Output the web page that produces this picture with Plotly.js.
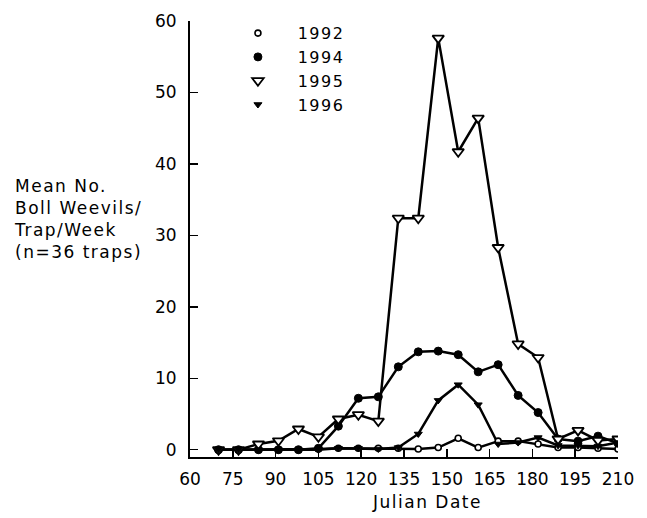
<!DOCTYPE html>
<html>
<head>
<meta charset="utf-8">
<script src="https://cdn.plot.ly/plotly-3.0.1.min.js"></script>
<style>
  html, body { margin: 0; padding: 0; background: #fff; }
  #chart { width: 647px; height: 518px; }
  .annotation-text, .legendtext { letter-spacing: 1.5px; }
</style>
</head>
<body>
<div id="chart"></div>
<script>
// Julian dates of the weekly trap counts
const julianDates = [70, 77, 84, 91, 98, 105, 112, 119, 126, 133, 140, 147, 154, 161, 168, 175, 182, 189, 196, 203, 210];

// Mean no. boll weevils / trap / week
const y1992 = [0, 0, 0, 0, 0, 0.1, 0.2, 0.2, 0.2, 0.2, 0.1, 0.3, 1.6, 0.3, 1.2, 1.2, 0.8, 0.3, 0.3, 0.2, 0.1];
const y1994 = [0, 0, 0, 0, 0, 0.2, 3.3, 7.2, 7.4, 11.6, 13.7, 13.8, 13.3, 10.9, 11.9, 7.6, 5.2, 1.5, 1.2, 1.9, 0.9];
const y1995 = [0, 0, 0.8, 1.25, 2.9, 1.8, 4.3, 4.9, 4.0, 32.4, 32.4, 57.6, 41.7, 46.4, 28.3, 14.8, 12.9, 1.5, 2.7, 1.3, 1.5];
const y1996 = [0, 0, 0, 0, 0, 0, 0.2, 0.2, 0.1, 0.3, 2.2, 6.9, 9.1, 6.3, 0.8, 1.0, 1.7, 0.6, 0.6, 0.5, 1.0];

const seriesNames = ['1992', '1994', '1995', '1996'];
const seriesValues = [y1992, y1994, y1995, y1996];

const xTicks = [60, 75, 90, 105, 120, 135, 150, 165, 180, 195, 210];
const yTicks = [0, 10, 20, 30, 40, 50, 60];

const markerStyles = [
  { symbol: 'circle', size: 6, color: '#fff', line: { color: '#000', width: 1.6 } },
  { symbol: 'circle', size: 8, color: '#000', line: { color: '#000', width: 1 } },
  { symbol: 'triangle-down', size: 10, color: '#fff', line: { color: '#000', width: 1.8 } },
  { symbol: 'triangle-down', size: 7, color: '#000', line: { color: '#000', width: 1 } }
];

const traces = [];
seriesValues.forEach((vals, i) => {
  traces.push({
    x: julianDates, y: vals, type: 'scatter', mode: 'lines',
    line: { color: '#000', width: 2.5 }, showlegend: false, hoverinfo: 'skip'
  });
});
seriesValues.forEach((vals, i) => {
  traces.push({
    x: julianDates, y: vals, type: 'scatter', mode: 'markers',
    name: '\u00a0\u00a0\u00a0' + seriesNames[i],
    marker: markerStyles[i], showlegend: true
  });
});

const font = { family: 'DejaVu Sans, sans-serif', size: 17, color: '#000' };

const layout = {
  width: 647, height: 518,
  margin: { l: 190, r: 29, t: 21, b: 61 },
  paper_bgcolor: '#fff', plot_bgcolor: '#fff',
  font: font,
  showlegend: true,
  legend: {
    x: 0.112, y: 1.011, xanchor: 'left', yanchor: 'top',
    bgcolor: 'rgba(0,0,0,0)', borderwidth: 0,
    font: { family: 'DejaVu Sans, sans-serif', size: 16, color: '#000' }
  },
  xaxis: {
    range: [60, 210], tickvals: xTicks, ticktext: xTicks.map(String),
    ticks: 'inside', ticklen: 8, tickwidth: 1.5, tickcolor: '#000',
    showline: true, linecolor: '#000', linewidth: 2,
    showgrid: false, zeroline: false,
    tickfont: font, ticklabelstandoff: 6
  },
  yaxis: {
    range: [-1.02, 60], tickvals: yTicks, ticktext: yTicks.map(String),
    ticks: 'inside', ticklen: 8, tickwidth: 1.5, tickcolor: '#000',
    showline: true, linecolor: '#000', linewidth: 2,
    showgrid: false, zeroline: false,
    tickfont: font, ticklabelstandoff: 8
  },
  annotations: [
    {
      text: 'Julian Date', xref: 'paper', yref: 'paper',
      x: 0.554, y: -0.103, xanchor: 'center', yanchor: 'middle',
      showarrow: false, font: font
    },
    {
      text: 'Mean No.<br>Boll Weevils/<br>Trap/Week<br>(n=36 traps)',
      xref: 'paper', yref: 'paper',
      x: -0.416, y: 0.547, xanchor: 'left', yanchor: 'middle', align: 'left',
      showarrow: false, font: font
    }
  ]
};

Plotly.newPlot('chart', traces, layout, { displayModeBar: false, staticPlot: true });
</script>
</body>
</html>
